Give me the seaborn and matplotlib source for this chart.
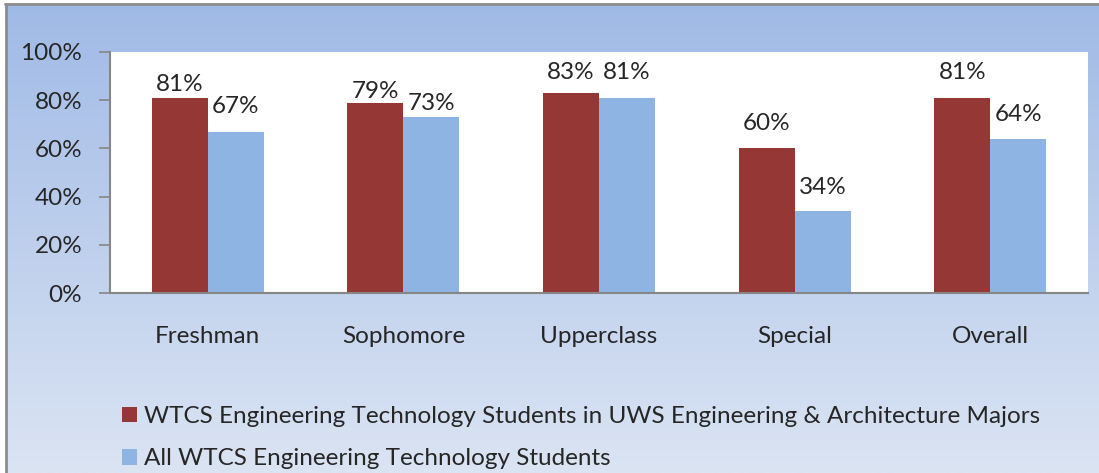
import numpy as np
import pandas as pd
import matplotlib
matplotlib.use('Agg')
import matplotlib.pyplot as plt
import seaborn as sns
from matplotlib.lines import Line2D
from matplotlib.patches import Patch

# Chart values
categories = ['Freshman', 'Sophomore', 'Upperclass', 'Special', 'Overall']
uws_majors = [81, 79, 83, 60, 81]
all_students = [67, 73, 81, 34, 64]
series_names = ['WTCS Engineering Technology Students in UWS Engineering & Architecture Majors',
                'All WTCS Engineering Technology Students']
yticks = [0, 20, 40, 60, 80, 100]

# label nudges above each bar (pixels), red series then blue series
label_gap_red = [13, 11, 20, 25, 25]
label_gap_blue = [25, 14, 25, 24, 24]

RED = '#953735'
BLUE = '#8EB4E3'
FS = 17.5

df = pd.DataFrame({
    'category': categories * 2,
    'value': uws_majors + all_students,
    'series': [series_names[0]] * 5 + [series_names[1]] * 5,
})

sns.set_style('white')
plt.rcParams['font.family'] = ['Lato', 'DejaVu Sans']

W, H = 1099, 473
fig = plt.figure(figsize=(W / 100, H / 100), dpi=100)
fig.patch.set_facecolor('white')

# gradient chart-area background with grey border on top/left
bg = fig.add_axes([7 / W, 0, 1 - 7 / W, 1 - 5 / H], zorder=-2)
grad = np.linspace(0, 1, 256)[:, None]
top_c = np.array([160, 186, 230]) / 255
bot_c = np.array([219, 228, 243]) / 255
img = top_c[None, None, :] * (1 - grad[:, :, None]) + bot_c[None, None, :] * grad[:, :, None]
bg.imshow(img, aspect='auto', extent=[0, 1, 0, 1])
bg.axis('off')
fig.add_artist(Line2D([6 / W, 6 / W], [0, 1 - 4 / H], color='#8c8c8c', lw=2, transform=fig.transFigure))
fig.add_artist(Line2D([5 / W, 1], [1 - 4 / H, 1 - 4 / H], color='#8c8c8c', lw=2, transform=fig.transFigure))

ax = fig.add_axes([110 / W, (H - 293) / H, (1088 - 110) / W, (293 - 52) / H])
sns.barplot(data=df, x='category', y='value', hue='series', order=categories,
            hue_order=series_names, palette=[RED, BLUE], width=0.572, gap=0,
            saturation=1, ax=ax, legend=False, edgecolor='none')

ax.set_facecolor('white')
ax.set_xlim(-0.5, 4.5)
ax.set_ylim(0, 100)
ax.set_yticks(yticks)
ax.set_yticklabels([f'{v}%' for v in yticks], fontsize=FS)
ax.set_xticks(range(len(categories)))
ax.set_xticklabels(categories, fontsize=FS)
ax.set_xticks(np.arange(-0.5, 5, 1), minor=True)
ax.tick_params(axis='x', which='major', length=0, pad=24)
ax.tick_params(axis='x', which='minor', length=8, width=1.2, color='#868686', direction='out')
ax.tick_params(axis='y', length=8, width=1.2, color='#868686', pad=12, direction='out', left=True)
ax.set_xlabel('')
ax.set_ylabel('')
for side in ['top', 'right']:
    ax.spines[side].set_visible(False)
for side in ['left', 'bottom']:
    ax.spines[side].set_visible(True)
    ax.spines[side].set_color('#868686')
    ax.spines[side].set_linewidth(1.5)

# value labels
bars_red = ax.containers[0]
bars_blue = ax.containers[1]
for bars, vals, gaps in [(bars_red, uws_majors, label_gap_red), (bars_blue, all_students, label_gap_blue)]:
    for bar, v, g in zip(bars, vals, gaps):
        ax.annotate(f'{v}%', (bar.get_x() + bar.get_width() / 2, bar.get_height()),
                    xytext=(0, g * 0.72), textcoords='offset points',
                    ha='center', va='center', fontsize=FS, annotation_clip=False)

# legend
handles = [Patch(facecolor=RED, edgecolor='none'), Patch(facecolor=BLUE, edgecolor='none')]
fig.legend(handles, series_names, loc='upper left', bbox_to_anchor=(122 / W, 1 - 406 / H),
           frameon=False, fontsize=FS, handlelength=0.6, handleheight=0.6,
           handletextpad=0.3, labelspacing=0.88, borderaxespad=0, borderpad=0)

fig.savefig('out.png', dpi=100)
